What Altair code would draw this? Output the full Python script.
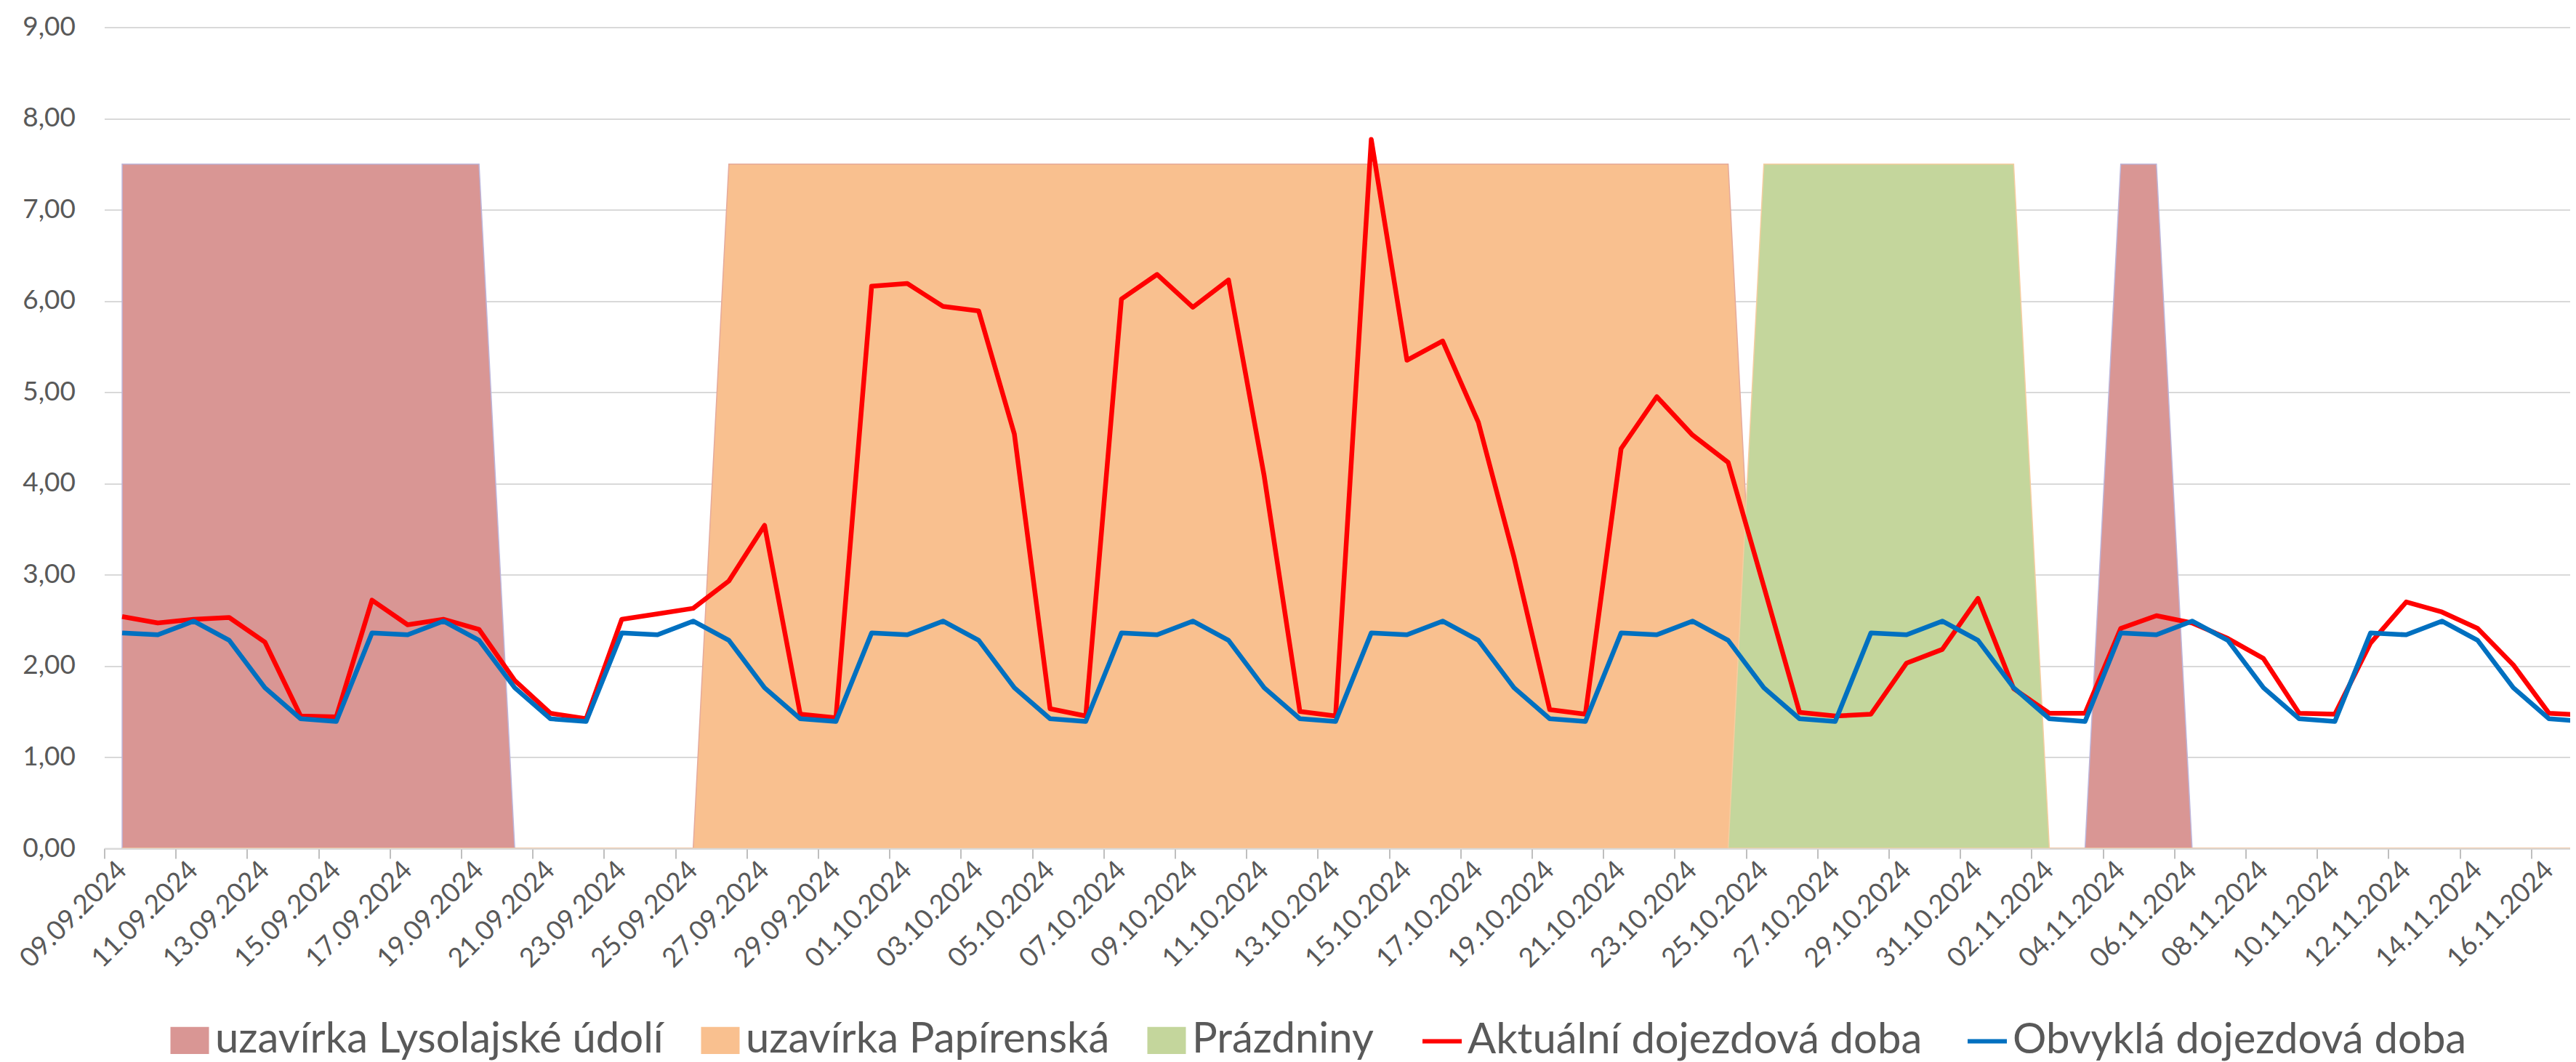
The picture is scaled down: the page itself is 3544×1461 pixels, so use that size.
import json
import altair as alt
import pandas as pd

# ---------------- data ----------------
dates = [d.strftime("%d.%m.%Y") for d in pd.date_range("2024-09-09", "2024-11-17", freq="D")]

actual = [2.54, 2.47, 2.51, 2.53, 2.26, 1.45, 1.44, 2.72, 2.45, 2.51, 2.40, 1.84,
          1.48, 1.42, 2.51, 2.57, 2.63, 2.93, 3.54, 1.47, 1.43, 6.16, 6.19,
          5.94, 5.89, 4.54, 1.53, 1.45, 6.02, 6.29, 5.93, 6.23, 4.08, 1.50, 1.45,
          7.77, 5.35, 5.56, 4.67, 3.19, 1.52, 1.47, 4.38, 4.95, 4.53, 4.23,
          2.87, 1.49, 1.45, 1.47, 2.03, 2.18, 2.74, 1.75, 1.48, 1.48, 2.41,
          2.55, 2.47, 2.30, 2.08, 1.48, 1.47, 2.25, 2.70, 2.59, 2.41, 2.01, 1.48, 1.46]

usual = [2.36, 2.34, 2.49, 2.28, 1.76, 1.42, 1.39,
         2.36, 2.34, 2.49, 2.28, 1.76, 1.42, 1.39,
         2.36, 2.34, 2.49, 2.28, 1.76, 1.42, 1.39,
         2.36, 2.34, 2.49, 2.28, 1.76, 1.42, 1.39,
         2.36, 2.34, 2.49, 2.28, 1.76, 1.42, 1.39,
         2.36, 2.34, 2.49, 2.28, 1.76, 1.42, 1.39,
         2.36, 2.34, 2.49, 2.28, 1.76, 1.42, 1.39,
         2.36, 2.34, 2.49, 2.28, 1.76, 1.42, 1.39,
         2.36, 2.34, 2.49, 2.28, 1.76, 1.42, 1.39,
         2.36, 2.34, 2.49, 2.28, 1.76, 1.42, 1.39]

lysolaje = [7.5, 7.5, 7.5, 7.5, 7.5, 7.5, 7.5, 7.5, 7.5, 7.5, 7.5, 0,
            0, 0, 0, 0, 0, 0, 0, 0, 0, 0, 0,
            0, 0, 0, 0, 0, 0, 0, 0, 0, 0, 0, 0,
            0, 0, 0, 0, 0, 0, 0, 0, 0, 0, 0,
            0, 0, 0, 0, 0, 0, 0, 0, 0, 0, 7.5,
            7.5, 0, 0, 0, 0, 0, 0, 0, 0, 0, 0, 0, 0]

papirenska = [0, 0, 0, 0, 0, 0, 0, 0, 0, 0, 0, 0,
              0, 0, 0, 0, 0, 7.5, 7.5, 7.5, 7.5, 7.5, 7.5,
              7.5, 7.5, 7.5, 7.5, 7.5, 7.5, 7.5, 7.5, 7.5, 7.5, 7.5, 7.5,
              7.5, 7.5, 7.5, 7.5, 7.5, 7.5, 7.5, 7.5, 7.5, 7.5, 7.5,
              0, 0, 0, 0, 0, 0, 0, 0, 0, 0, 0,
              0, 0, 0, 0, 0, 0, 0, 0, 0, 0, 0, 0, 0]

prazdniny = [0, 0, 0, 0, 0, 0, 0, 0, 0, 0, 0, 0,
             0, 0, 0, 0, 0, 0, 0, 0, 0, 0, 0,
             0, 0, 0, 0, 0, 0, 0, 0, 0, 0, 0, 0,
             0, 0, 0, 0, 0, 0, 0, 0, 0, 0, 0,
             7.5, 7.5, 7.5, 7.5, 7.5, 7.5, 7.5, 7.5, 0, 0, 0,
             0, 0, 0, 0, 0, 0, 0, 0, 0, 0, 0, 0, 0]

AREA_NAMES = ["uzavírka Lysolajské údolí", "uzavírka Papírenská", "Prázdniny"]
AREA_COLORS = ["#D99694", "#F9C08F", "#C4D69C"]
AREA_BORDERS = ["#BDB5DA", "#E5AA9C", "#F5CDA0"]
LINE_NAMES = ["Aktuální dojezdová doba", "Obvyklá dojezdová doba"]
LINE_COLORS = ["#FF0000", "#0070C0"]
Y_TICKS = [0, 1, 2, 3, 4, 5, 6, 7, 8, 9]

# ---------------- tables ----------------
idx = list(range(len(dates)))
area_df = pd.DataFrame({
    "i": idx * 3,
    "series": [n for n in AREA_NAMES for _ in idx],
    "v": lysolaje + papirenska + prazdniny,
})
line_df = pd.DataFrame({
    "i": idx * 2,
    "series": [n for n in LINE_NAMES for _ in idx],
    "v": actual + usual,
})

# ---------------- layout ----------------
FONT = "Lato"
TXT = "#595959"
PLOT_W = 3392.5
PLOT_H = 1129.6
PX_DAY = 49.1

xscale = alt.Scale(domain=[-0.5, -0.5 + PLOT_W / PX_DAY], nice=False, zero=False)
yscale = alt.Scale(domain=[0, 9], nice=False)

xaxis = alt.Axis(
    values=idx[::2], labelExpr=json.dumps(dates) + "[datum.value]",
    labelAngle=-45, labelAlign="right", labelBaseline="middle",
    tickOffset=-PX_DAY / 2, labelOffset=PX_DAY / 2,
    tickSize=14, tickWidth=2, tickColor="#BFBFBF",
    domainColor="#D9D9D9", domainWidth=2, grid=False, title=None,
    labelFont=FONT, labelFontSize=37, labelColor=TXT, labelPadding=10,
    labelOverlap=False, labelFlush=False, labelLimit=600,
)
yaxis = alt.Axis(
    values=Y_TICKS, labelExpr="replace(format(datum.value, '.2f'), '.', ',')",
    ticks=False, domain=False, gridColor="#D9D9D9", gridWidth=2,
    labelPadding=40, labelFont=FONT, labelFontSize=37, labelColor=TXT,
    title=None, labelFlush=False,
)

LEG_FS = 58
LEG_Y = 1365
area_legend = alt.Legend(
    orient="none", legendX=88.5, legendY=LEG_Y, direction="horizontal", title=None,
    symbolType="M-1,-0.7H1V0.7H-1Z", symbolSize=2809, symbolStrokeWidth=0,
    labelFont=FONT, labelFontSize=LEG_FS, labelColor=TXT, labelOffset=6,
    columnPadding=49, labelLimit=2000,
)
line_legend = alt.Legend(
    orient="none", legendX=1810.5, legendY=LEG_Y, direction="horizontal", title=None,
    symbolType="stroke", symbolSize=2916, symbolStrokeWidth=6,
    labelFont=FONT, labelFontSize=LEG_FS, labelColor=TXT, labelOffset=5,
    columnPadding=50, labelLimit=2000,
)

area_layers = []
for name, border in zip(AREA_NAMES, AREA_BORDERS):
    area_layers.append(
        alt.Chart(area_df)
        .transform_filter(alt.datum.series == name)
        .mark_area(clip=True, stroke=border, strokeWidth=1.5, opacity=1)
        .encode(
            x=alt.X("i:Q", scale=xscale, axis=xaxis),
            y=alt.Y("v:Q", scale=yscale, axis=yaxis, stack=None),
            fill=alt.Fill("series:N", scale=alt.Scale(domain=AREA_NAMES, range=AREA_COLORS),
                          legend=area_legend),
        )
    )

lines = (
    alt.Chart(line_df)
    .mark_line(clip=True, strokeWidth=6.5, strokeJoin="round")
    .encode(
        x=alt.X("i:Q", scale=xscale, axis=xaxis),
        y=alt.Y("v:Q", scale=yscale, axis=yaxis),
        stroke=alt.Stroke("series:N", scale=alt.Scale(domain=LINE_NAMES, range=LINE_COLORS),
                          legend=line_legend),
        order="i:Q",
    )
)

chart = (
    alt.layer(*area_layers, lines)
    .properties(
        width=PLOT_W, height=PLOT_H,
        autosize=alt.AutoSizeParams(type="none"),
        padding={"left": 135.5, "top": 29.4, "right": 0, "bottom": 294},
        background="white",
    )
    .configure_view(strokeWidth=0)
)

chart.save("out.html", embed_options={"renderer": "svg", "actions": False})
